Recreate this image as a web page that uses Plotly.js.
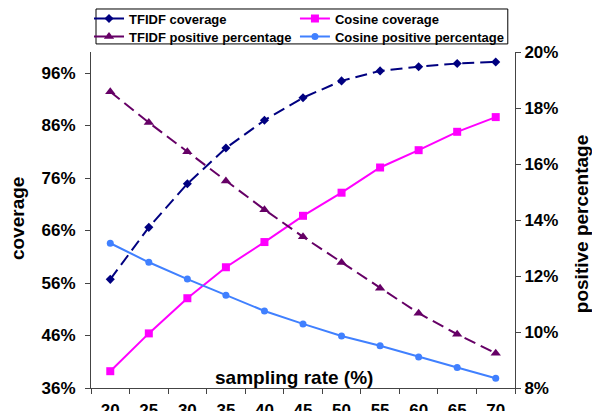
<!DOCTYPE html>
<html>
<head>
<meta charset="utf-8">
<script src="https://cdn.plot.ly/plotly-3.0.1.min.js"></script>
<style>html,body{margin:0;padding:0;background:#fff;}#chart{width:592px;height:411px;}</style>
</head>
<body>
<div id="chart"></div>
<script>
const samplingRates = ['20','25','30','35','40','45','50','55','60','65','70'];
const tfidfCoverage = [56.7, 66.6, 74.9, 81.7, 87.0, 91.3, 94.5, 96.4, 97.2, 97.8, 98.1];
const cosineCoverage = [39.2, 46.4, 53.1, 59.0, 63.8, 68.8, 73.2, 78.0, 81.3, 84.8, 87.6];
const tfidfPositive = [18.58, 17.48, 16.44, 15.39, 14.37, 13.40, 12.48, 11.56, 10.67, 9.92, 9.24];
const cosinePositive = [13.17, 12.49, 11.89, 11.31, 10.75, 10.29, 9.86, 9.51, 9.11, 8.73, 8.35];
const coverageTicks = [36, 46, 56, 66, 76, 86, 96];
const positiveTicks = [8, 10, 12, 14, 16, 18, 20];

const FONT = 'Arial, "Liberation Sans", sans-serif';
const AXC = '#444444';
const legendFont = {family: FONT, size: 13, color: '#000000', weight: 'bold'};

const traces = [
  {x: samplingRates, y: tfidfCoverage, name: 'TFIDF coverage', type: 'scatter', mode: 'lines+markers', legend: 'legend',
   line: {color: '#000080', width: 2, dash: '12px,6px'}, marker: {symbol: 'diamond', size: 7, color: '#000080'}},
  {x: samplingRates, y: cosineCoverage, name: 'Cosine coverage', type: 'scatter', mode: 'lines+markers', legend: 'legend2',
   line: {color: '#FF00FF', width: 2}, marker: {symbol: 'square', size: 8, color: '#FF00FF'}},
  {x: samplingRates, y: tfidfPositive, name: 'TFIDF positive percentage', type: 'scatter', mode: 'lines+markers', yaxis: 'y2', legend: 'legend3',
   line: {color: '#660066', width: 2, dash: '12px,6px'}, marker: {symbol: 'triangle-up', size: 9, color: '#660066'}},
  {x: samplingRates, y: cosinePositive, name: 'Cosine positive percentage', type: 'scatter', mode: 'lines+markers', yaxis: 'y2', legend: 'legend4',
   line: {color: '#4080FF', width: 2}, marker: {symbol: 'circle', size: 7, color: '#4080FF'}}
];

function legendAt(x, y) {
  return {orientation: 'v', x: x, y: y, xanchor: 'left', yanchor: 'top',
    borderwidth: 0, bgcolor: 'rgba(0,0,0,0)', font: legendFont};
}

const layout = {
  width: 592, height: 411,
  margin: {l: 91, r: 77, t: 52, b: 23, pad: 0, autoexpand: false},
  paper_bgcolor: '#ffffff', plot_bgcolor: '#ffffff',
  font: {family: FONT, color: '#000000', size: 17, weight: 'bold'},
  showlegend: true,
  legend: legendAt(-0.0047, 1.1443),
  legend2: legendAt(0.481, 1.1443),
  legend3: legendAt(-0.0047, 1.0908),
  legend4: legendAt(0.481, 1.0908),
  shapes: [
    {type: 'rect', xref: 'paper', yref: 'paper', x0: 0.0118, x1: 0.983, y0: 1.024, y1: 1.128,
     line: {color: '#000000', width: 1}, fillcolor: 'rgba(0,0,0,0)', layer: 'above'}
  ],
  xaxis: {type: 'category', categoryorder: 'array', categoryarray: samplingRates,
    range: [-0.5, samplingRates.length - 0.5], autorange: false,
    tickson: 'boundaries', ticks: 'outside', ticklen: 5, tickcolor: AXC, tickwidth: 1,
    showline: true, linecolor: AXC, linewidth: 1, showgrid: false, zeroline: false,
    tickfont: {family: FONT, size: 17, weight: 'bold', color: '#000'}, ticklabelstandoff: 7},
  yaxis: {range: [36, 100], tickvals: coverageTicks, ticktext: coverageTicks.map(v => v + '%'),
    ticks: 'outside', ticklen: 5, tickcolor: AXC, showline: true, linecolor: AXC, linewidth: 1,
    showgrid: false, zeroline: false, ticklabelstandoff: 6,
    tickfont: {family: FONT, size: 17, weight: 'bold', color: '#000'}},
  yaxis2: {range: [8, 20], tickvals: positiveTicks, ticktext: positiveTicks.map(v => v + '%'),
    overlaying: 'y', side: 'right', ticks: 'outside', ticklen: 5, tickcolor: AXC,
    showline: true, linecolor: AXC, linewidth: 1, showgrid: false, zeroline: false,
    tickfont: {family: FONT, size: 17, weight: 'bold', color: '#000'}},
  annotations: [
    {text: 'sampling rate (%)', xref: 'paper', yref: 'paper', x: 0.479, y: 0.03, xanchor: 'center', yanchor: 'middle',
     showarrow: false, font: {family: FONT, size: 19, weight: 'bold', color: '#000'}},
    {text: 'coverage', xref: 'paper', yref: 'paper', x: -0.172, y: 0.503, xanchor: 'center', yanchor: 'middle',
     textangle: -90, showarrow: false, font: {family: FONT, size: 19, weight: 'bold', color: '#000'}},
    {text: 'positive percentage', xref: 'paper', yref: 'paper', x: 1.156, y: 0.488, xanchor: 'center', yanchor: 'middle',
     textangle: -90, showarrow: false, font: {family: FONT, size: 19, weight: 'bold', color: '#000'}}
  ]
};

Plotly.newPlot('chart', traces, layout, {displayModeBar: false, staticPlot: true});
</script>
</body>
</html>
